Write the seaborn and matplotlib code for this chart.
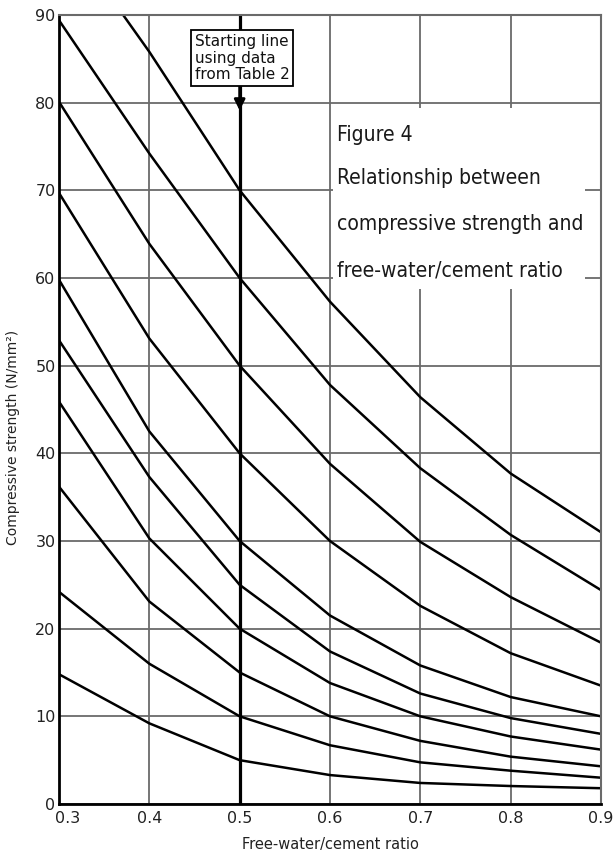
import numpy as np
import pandas as pd
import matplotlib
matplotlib.use("Agg")
import matplotlib.pyplot as plt
import matplotlib.transforms as mtransforms
from matplotlib import font_manager
from matplotlib.font_manager import FontProperties
import seaborn as sns
from matplotlib.patches import Rectangle

# ---------------- data ----------------
ratio = [0.3, 0.4, 0.5, 0.6, 0.7, 0.8, 0.9]
curve_a = [100.3, 85.8, 70.0, 57.3, 46.4, 37.7, 31.0]
curve_b = [89.4, 74.2, 60.0, 47.8, 38.3, 30.7, 24.4]
curve_c = [80.1, 63.9, 50.0, 38.8, 29.9, 23.6, 18.4]
curve_d = [69.7, 53.1, 40.0, 30.0, 22.6, 17.2, 13.5]
curve_e = [59.8, 42.5, 30.0, 21.5, 15.8, 12.2, 10.0]
curve_f = [52.9, 37.3, 25.0, 17.4, 12.6, 9.8, 8.0]
curve_g = [45.9, 30.3, 20.0, 13.8, 10.0, 7.7, 6.2]
curve_h = [36.2, 23.1, 15.0, 10.0, 7.2, 5.4, 4.3]
curve_i = [24.2, 16.0, 10.0, 6.7, 4.75, 3.8, 3.0]
curve_j = [14.8, 9.2, 5.0, 3.3, 2.4, 2.05, 1.8]
curves = {"A": curve_a, "B": curve_b, "C": curve_c, "D": curve_d, "E": curve_e,
          "F": curve_f, "G": curve_g, "H": curve_h, "I": curve_i, "J": curve_j}

x_ticks = [0.3, 0.4, 0.5, 0.6, 0.7, 0.8, 0.9]
x_ticklabels = ["0.3", "0.4", "0.5", "0.6", "0.7", "0.8", "0.9"]
y_ticks = [0, 10, 20, 30, 40, 50, 60, 70, 80, 90]
starting_line_x = 0.5

x_label = "Free-water/cement ratio"
y_label = "Compressive strength (N/mm²)"
box_text = "Starting line\nusing data\nfrom Table 2"
title_lines = ["Figure 4", "Relationship between",
               "compressive strength and", "free-water/cement ratio"]

rows = []
for name, vals in curves.items():
    for xv, yv in zip(ratio, vals):
        rows.append({"curve": name, "ratio": xv, "strength": yv})
df = pd.DataFrame(rows)

# ---------------- pick a narrow font for the caption if one exists ----------------
cap_fp = None
for f in font_manager.fontManager.ttflist:
    nm = f.name.lower()
    st = str(f.stretch).lower()
    if ("condensed" in nm or "narrow" in nm or "condensed" in st) and f.weight in (400, "normal", "regular", 500, "medium"):
        if "italic" in str(f.style).lower() or "oblique" in str(f.style).lower():
            continue
        cap_fp = f.fname
        break

# ---------------- figure ----------------
sns.set_style("white")
plt.rcParams["font.family"] = ["DejaVu Sans"]

fig = plt.figure(figsize=(6.14, 8.57), dpi=100)
ax = fig.add_axes([59 / 614, 53 / 857, 542 / 614, 789 / 857])

grid_col = "#6a6a6a"
for xv in x_ticks:
    if xv == starting_line_x:
        continue
    ax.axvline(xv, color=grid_col, lw=1.3, zorder=1)
for yv in y_ticks:
    ax.axhline(yv, color=grid_col, lw=1.3, zorder=1)

# white panel that hides the grid behind the caption
ax.add_patch(Rectangle((0.6035, 58.8), 0.279, 20.6, facecolor="white",
                       edgecolor="none", zorder=2))

sns.lineplot(data=df, x="ratio", y="strength", units="curve", estimator=None,
             color="black", lw=1.8, ax=ax, zorder=3, legend=False)

# starting line
ax.axvline(starting_line_x, color="black", lw=2.3, zorder=4)
ax.annotate("", xy=(starting_line_x, 79.1), xytext=(starting_line_x, 83.0),
            arrowprops=dict(arrowstyle="-|>", color="black", lw=2.0,
                            mutation_scale=16, shrinkA=0, shrinkB=0),
            zorder=5)
ax.text(0.5027, 85.05, box_text, ha="center", va="center", multialignment="left",
        fontsize=11, linespacing=1.12, zorder=6, color="#111111",
        bbox=dict(boxstyle="square,pad=0.26", facecolor="white", edgecolor="black", lw=1.3))

# caption
if cap_fp is not None:
    base_fp = FontProperties(fname=cap_fp)
else:
    base_fp = FontProperties(family=["Roboto", "DejaVu Sans"])

baselines = [141, 184, 230, 276]
target_w = 246.0  # width in px of "compressive strength and"
fig.canvas.draw()
renderer = fig.canvas.get_renderer()
probe = ax.text(0, 0, title_lines[2], fontproperties=base_fp, fontsize=20,
                transform=ax.transAxes)
w20 = probe.get_window_extent(renderer).width
probe.remove()
cap_size = min(20.0 * target_w / w20, 19.0)

for txt, bl in zip(title_lines, baselines):
    ax.text((337 - 59) / 542, (804 - bl) / 789, txt, transform=ax.transAxes,
            ha="left", va="baseline", fontproperties=base_fp, fontsize=cap_size,
            color="#1a1a1a", zorder=6)

ax.set_xlim(0.3, 0.9)
ax.set_ylim(0, 90)
ax.set_xticks(x_ticks)
ax.set_xticklabels(x_ticklabels)
ax.set_yticks(y_ticks)
ax.tick_params(axis="both", length=0, labelsize=11.5, colors="#222222")
ax.tick_params(axis="x", pad=5)
ax.tick_params(axis="y", pad=2.5)

# first x label sits to the right of the corner, as in the reference
first = ax.get_xticklabels()[0]
first.set_transform(first.get_transform() +
                    mtransforms.ScaledTranslation(9 / 100, 0, fig.dpi_scale_trans))

ax.set_xlabel(x_label, fontsize=10.5, color="#222222")
ax.set_ylabel(y_label, fontsize=10, color="#222222")
ax.xaxis.set_label_coords(0.5, -0.042)
ax.yaxis.set_label_coords(-0.072, 0.465)

for side in ["left", "bottom"]:
    ax.spines[side].set_color("black")
    ax.spines[side].set_linewidth(2.0)
for side in ["top", "right"]:
    ax.spines[side].set_color(grid_col)
    ax.spines[side].set_linewidth(1.5)
for s in ax.spines.values():
    s.set_zorder(7)

fig.savefig("out.png", dpi=100, facecolor="white")
